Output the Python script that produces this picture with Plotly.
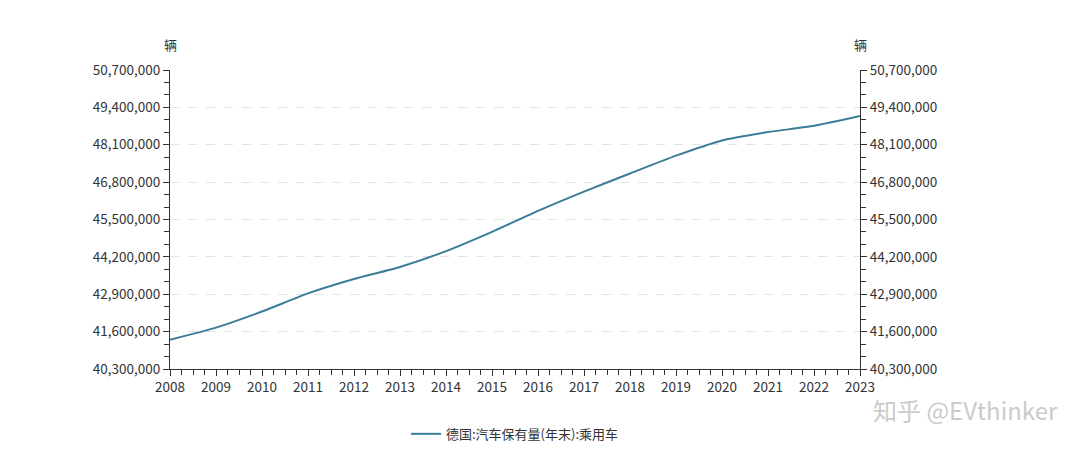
import plotly.graph_objects as go

years = list(range(2008, 2024))
cars = [41.32e6, 41.74e6, 42.30e6, 42.93e6, 43.43e6, 43.85e6, 44.40e6, 45.07e6,
        45.80e6, 46.47e6, 47.10e6, 47.72e6, 48.25e6, 48.54e6, 48.76e6, 49.10e6]
series_name = '德国:汽车保有量(年末):乘用车'
y_min, y_max, y_step = 40.3e6, 50.7e6, 1.3e6

FONT = 'Noto Sans CJK SC'
LINE = '#3b7c99'

fig = go.Figure()
fig.add_trace(go.Scatter(
    x=years, y=cars, name=series_name, mode='lines',
    line=dict(color=LINE, width=2, shape='spline', smoothing=0.6),
))
# invisible copy so the right axis is drawn
fig.add_trace(go.Scatter(
    x=years, y=cars, yaxis='y2', mode='lines', showlegend=False,
    hoverinfo='skip', line=dict(color='rgba(0,0,0,0)', width=0),
))

axis_common = dict(
    range=[y_min, y_max], dtick=y_step, tick0=y_min, tickformat=',d',
    ticks='outside', ticklen=6, tickcolor='#333', showline=True,
    linecolor='#333', linewidth=1, zeroline=False,
    tickfont=dict(family=FONT, size=13.5, color='#333'),
    minor=dict(dtick=y_step / 3, tick0=y_min, ticks='outside', ticklen=5,
               tickcolor='#333', showgrid=False),
)

# page body has an 8px margin, so the margins are shifted by that
fig.update_layout(
    width=1080, height=454,
    margin=dict(l=162, r=228, t=62, b=93, autoexpand=False),
    plot_bgcolor='white', paper_bgcolor='white',
    font=dict(family=FONT, color='#333'),
    xaxis=dict(
        range=[2008, 2023], dtick=1, tick0=2008, showgrid=False,
        ticks='outside', ticklen=6, tickcolor='#333', showline=True,
        linecolor='#333', linewidth=1, zeroline=False,
        tickfont=dict(family=FONT, size=13.5, color='#333'),
        minor=dict(dtick=0.25, ticks='outside', ticklen=5, tickcolor='#333'),
    ),
    yaxis=dict(showgrid=True, gridcolor='#e3e3e3', griddash='dash',
               gridwidth=1, **axis_common),
    yaxis2=dict(overlaying='y', side='right', showgrid=False, **axis_common),
    legend=dict(orientation='h', x=0.5, xanchor='center', y=-0.217,
                yanchor='middle', itemwidth=30,
                font=dict(family=FONT, size=13, color='#333')),
    showlegend=True,
)

for side in (0, 1):
    fig.add_annotation(text='辆', xref='paper', yref='paper', x=side, y=1.084,
                       xanchor='center', yanchor='middle', showarrow=False,
                       font=dict(family=FONT, size=13, color='#333'))
fig.add_annotation(text='知乎 @EVthinker', xref='paper', yref='paper',
                   x=1.1536, y=-0.137, xanchor='center', yanchor='middle',
                   showarrow=False,
                   font=dict(family=FONT, size=24, color='#cbcbcb'))

fig.write_html('out.html')
